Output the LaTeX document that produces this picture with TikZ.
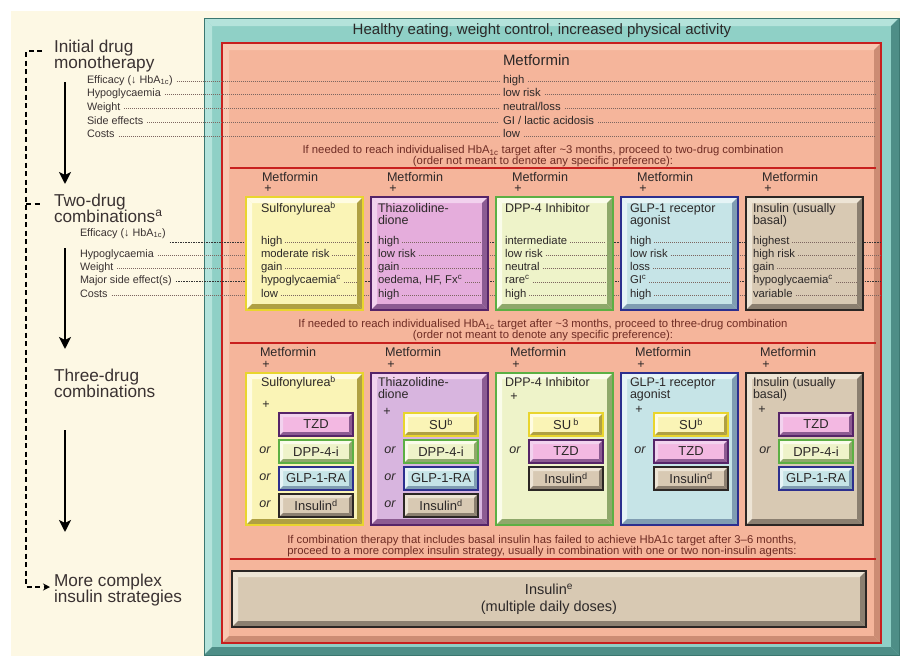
\documentclass[tikz,border=0pt]{standalone}
\usepackage{fontspec}
\setmainfont{Liberation Sans}
\usetikzlibrary{arrows.meta,calc}

% ---------- palette
\definecolor{cream}{HTML}{FDF8E4}
\definecolor{ink}{HTML}{2C2828}
\definecolor{leftInk}{HTML}{3A3232}
\definecolor{stepInk}{HTML}{6E2C24}
\definecolor{dotInk}{HTML}{7D6660}
\definecolor{tealFace}{HTML}{8FD0C6}
\definecolor{tealLight}{HTML}{B4E3DB}
\definecolor{tealDark}{HTML}{4E8E87}
\definecolor{tealEdge}{HTML}{3B7770}
\definecolor{salFace}{HTML}{F5B59B}
\definecolor{salLight}{HTML}{F9C8B1}
\definecolor{salDark}{HTML}{CC8C74}
\definecolor{redLine}{HTML}{C8201E}
\definecolor{suEdge}{HTML}{E9D52E}
\definecolor{suFace}{HTML}{FAF4B6}
\definecolor{suLight}{HTML}{FFFCE2}
\definecolor{suDark}{HTML}{AFA043}
\definecolor{tzdEdge}{HTML}{552468}
\definecolor{tzdFace}{HTML}{E5ADDC}
\definecolor{tzdLight}{HTML}{F2D2EE}
\definecolor{tzdDark}{HTML}{8C5B92}
\definecolor{tzdOuter}{HTML}{D8B5DF}
\definecolor{tzdInner}{HTML}{F3B8E2}
\definecolor{dppEdge}{HTML}{5CAF44}
\definecolor{dppFace}{HTML}{EEF3C9}
\definecolor{dppLight}{HTML}{FAFCEA}
\definecolor{dppDark}{HTML}{8EA86A}
\definecolor{glpEdge}{HTML}{2C2F8E}
\definecolor{glpFace}{HTML}{C6E4E7}
\definecolor{glpLight}{HTML}{E6F4F6}
\definecolor{glpDark}{HTML}{7F9DB2}
\definecolor{insEdge}{HTML}{2B2624}
\definecolor{insFace}{HTML}{D8C9B3}
\definecolor{insLight}{HTML}{EDE4D5}
\definecolor{insDark}{HTML}{8B7F70}

\newcommand\fsz[2]{\fontsize{#1}{#2}\selectfont}
\newcommand\hba{HbA\textsubscript{1c}}

\tikzset{
  every node/.style={inner sep=0pt, outer sep=0pt, text=ink},
  % raised edge: light top/left, dark bottom/right
  bevel/.style n args={3}{path picture={
      \coordinate (bvNW) at (path picture bounding box.north west);
      \coordinate (bvNE) at (path picture bounding box.north east);
      \coordinate (bvSW) at (path picture bounding box.south west);
      \coordinate (bvSE) at (path picture bounding box.south east);
      \fill[#1] (bvNW) -- (bvNE) -- ([xshift=-#3pt,yshift=-#3pt]bvNE) -- ([xshift=#3pt,yshift=-#3pt]bvNW) -- cycle;
      \fill[#1] (bvNW) -- (bvSW) -- ([xshift=#3pt,yshift=#3pt]bvSW) -- ([xshift=#3pt,yshift=-#3pt]bvNW) -- cycle;
      \fill[#2] (bvSW) -- (bvSE) -- ([xshift=-#3pt,yshift=#3pt]bvSE) -- ([xshift=#3pt,yshift=#3pt]bvSW) -- cycle;
      \fill[#2] (bvNE) -- (bvSE) -- ([xshift=-#3pt,yshift=#3pt]bvSE) -- ([xshift=-#3pt,yshift=-#3pt]bvNE) -- cycle;
  }},
  tealframe/.style={draw=tealEdge, line width=1pt, fill=tealFace, bevel={tealLight}{tealDark}{8}},
  salpanel/.style={draw=redLine, line width=1.6pt, fill=salFace, bevel={salLight}{salDark}{7}},
  drug/.style={draw=#1Edge, fill=#1Face, line width=2.6pt, bevel={#1Light}{#1Dark}{6}},
  addon/.style={draw=#1Edge, fill=#1Face, line width=2pt, bevel={#1Light}{#1Dark}{4},
    font=\fsz{13}{13}, minimum width=74pt, minimum height=23pt},
  labBig/.style={anchor=base west, font=\fsz{17.2}{16}, text=leftInk},
  labSmall/.style={anchor=base west, font=\fsz{10.8}{12}, text=leftInk},
  hdrTxt/.style={anchor=base west, font=\fsz{12.6}{12}},
  ttlTxt/.style={anchor=base west, font=\fsz{12.5}{12}},
  valTxt/.style={anchor=base west, font=\fsz{11.3}{12}},
  plusTxt/.style={font=\fsz{12.5}{12}},
  orTxt/.style={font=\itshape\fsz{12.5}{12}},
  noteTxt/.style={align=center, font=\fsz{11.3}{11}, text=stepInk},
  rowdot/.style={dotInk, line width=0.6pt, dash pattern=on 0.8pt off 1.2pt},
  rowdotdark/.style={black!80, line width=1pt, dash pattern=on 1.6pt off 1pt},
  redrule/.style={redLine, line width=2.5pt},
  stagearrow/.style={line width=2.3pt, -{Stealth[length=12pt,width=12pt,inset=3pt]}},
  dashflow/.style={line width=1.8pt, dash pattern=on 5pt off 3.5pt},
}

% values of one two-drug column, each followed by a dotted leader
\newcommand\valcol[3]{%
  \foreach \vt [count=\rw] in {#3} {
    \node[valTxt] (val#1x\rw) at (#2, {244+13.3*(\rw-1)}) {\vt};
    \draw[rowdot] ($(val#1x\rw.base east)+(3,-2)$) -- ($(val#1x\rw.base east -| two#1.east)+(-7,-2)$);
  }%
}

\begin{document}
\begin{tikzpicture}[x=1pt, y=-1pt]
\useasboundingbox (0,0) rectangle (900,656);
\fill[white] (0,0) rectangle (900,656);
\fill[cream] (11,11) rectangle (900,656);

% ---------- stage labels and flow arrows
\node[labBig] (s1a) at (54,52) {Initial drug};
\node[labBig] (s1b) at (54,68.5) {monotherapy};
\node[labBig] (s2a) at (54,206) {Two-drug};
\node[labBig] (s2b) at (54,222.5) {combinations\textsuperscript{a}};
\node[labBig] (s3a) at (54,381) {Three-drug};
\node[labBig] (s3b) at (54,397.5) {combinations};
\node[labBig] (s4a) at (54,586) {More complex};
\node[labBig] (s4b) at (54,602.5) {insulin strategies};

\coordinate (a1s) at (65,82);  \coordinate (a1e) at (65,184);
\coordinate (a2s) at (65,248); \coordinate (a2e) at (65,349);
\coordinate (a3s) at (65,430); \coordinate (a3e) at (65,532);
\draw[stagearrow] (a1s) -- (a1e);
\draw[stagearrow] (a2s) -- (a2e);
\draw[stagearrow] (a3s) -- (a3e);

\coordinate (dTop) at (42,51);  \coordinate (dTurnA) at (26,51);
\coordinate (dTurnB) at (26,587); \coordinate (dTip) at (50,587);
\coordinate (dTickA) at (26,204); \coordinate (dTickB) at (42,204);
\draw[dashflow, -{Stealth[length=7pt,width=7pt]}] (dTop) -- (dTurnA) -- (dTurnB) -- (dTip);
\draw[dashflow] (dTickA) -- (dTickB);

% row labels for the monotherapy and two-drug stages
\foreach \t [count=\rw] in {{Efficacy (↓ \hba)}, Hypoglycaemia, Weight, Side effects, Costs}
  \node[labSmall] (mlab\rw) at (87, {83+13.7*(\rw-1)}) {\t};
\node[labSmall] (tlab1) at (80,236) {Efficacy (↓ \hba)};
\foreach \t [count=\rw from 2] in {Hypoglycaemia, Weight, Major side effect(s), Costs}
  \node[labSmall] (tlab\rw) at (80, {244+13.3*(\rw-1)}) {\t};

% ---------- frames
\node[tealframe, minimum width=695pt, minimum height=637pt] (frame) at (551.5,336.5) {};
\node[font=\fsz{15}{15}] (motto) at (542,31) {Healthy eating, weight control, increased physical activity};
\node[salpanel, minimum width=659pt, minimum height=600pt] (panel) at (551.5,343) {};

% ---------- monotherapy
\node[anchor=base west, font=\fsz{15}{15}] (met0) at (503,65.5) {Metformin};
\foreach \t [count=\rw] in {high, low risk, neutral/loss, GI / lactic acidosis, low} {
  \node[valTxt] (mval\rw) at (503, {83+13.7*(\rw-1)}) {\t};
  \draw[rowdot] ($(mlab\rw.base east)+(4,-2)$) -- ($(mval\rw.base west)+(-4,-2)$);
  \draw[rowdot] ($(mval\rw.base east)+(4,-2)$) -- ($(mval\rw.base east -| panel.east)+(-6,-2)$);
}

\node[noteTxt] (note1) at (543,156) {If needed to reach individualised \hba{} target after \textasciitilde3 months, proceed to two-drug combination\\(order not meant to denote any specific preference):};
\draw[redrule] (230,168) -- (876,168);

% ---------- two-drug combinations
\foreach \rw in {1,...,5}
  \coordinate (row\rw) at (0, {242+13.3*(\rw-1)});
\foreach \rw in {2,3,5}
  \draw[rowdot] ($(tlab\rw.east |- row\rw)+(4,0)$) -- (row\rw -| panel.east);
\foreach \rw in {1,4}
  \draw[rowdotdark] ($(tlab\rw.east |- row\rw)+(4,0)$) -- (row\rw -| panel.east);

\foreach \i in {1,...,5} {
  \node[hdrTxt] (hm\i) at ({246+125*(\i-1)+16}, 181.5) {Metformin};
  \node[plusTxt] (hp\i) at ({246+125*(\i-1)+22}, 189) {+};
}

\node[drug=su,  minimum width=117pt, minimum height=113pt] (two1) at (304.5,253.5) {};
\node[drug=tzd, minimum width=117pt, minimum height=113pt] (two2) at (429.5,253.5) {};
\node[drug=dpp, minimum width=117pt, minimum height=113pt] (two3) at (554.5,253.5) {};
\node[drug=glp, minimum width=117pt, minimum height=113pt] (two4) at (679.5,253.5) {};
\node[drug=ins, minimum width=117pt, minimum height=113pt] (two5) at (804.5,253.5) {};

\node[ttlTxt] (tt1) at (261,212.5) {Sulfonylurea\textsuperscript{b}};
\node[ttlTxt] (tt2) at (378,212.5) {Thiazolidine-};
\node[ttlTxt] (tt2b) at (378,224.5) {dione};
\node[ttlTxt] (tt3) at (505,212.5) {DPP-4 Inhibitor};
\node[ttlTxt] (tt4) at (630,212.5) {GLP-1 receptor};
\node[ttlTxt] (tt4b) at (630,224.5) {agonist};
\node[ttlTxt] (tt5) at (753,212.5) {Insulin (usually};
\node[ttlTxt] (tt5b) at (753,224.5) {basal)};

\valcol{1}{261}{high, moderate risk, gain, hypoglycaemia\textsuperscript{c}, low}
\valcol{2}{378}{high, low risk, gain, {oedema, HF, Fx\textsuperscript{c}}, high}
\valcol{3}{505}{intermediate, low risk, neutral, rare\textsuperscript{c}, high}
\valcol{4}{630}{high, low risk, loss, GI\textsuperscript{c}, high}
\valcol{5}{753}{highest, high risk, gain, hypoglycaemia\textsuperscript{c}, variable}

\node[noteTxt] (note2) at (543,330) {If needed to reach individualised \hba{} target after \textasciitilde3 months, proceed to three-drug combination\\(order not meant to denote any specific preference):};
\draw[redrule] (230,343) -- (876,343);

% ---------- three-drug combinations
\foreach \i in {1,...,5} {
  \node[hdrTxt] (km\i) at ({246+125*(\i-1)+14}, 356.5) {Metformin};
  \node[plusTxt] (kp\i) at ({246+125*(\i-1)+20}, 365) {+};
}

\node[drug=su,  minimum width=117pt, minimum height=152pt] (three1) at (304.5,449) {};
\node[drug=tzd, fill=tzdOuter, minimum width=117pt, minimum height=152pt] (three2) at (429.5,449) {};
\node[drug=dpp, minimum width=117pt, minimum height=152pt] (three3) at (554.5,449) {};
\node[drug=glp, minimum width=117pt, minimum height=152pt] (three4) at (679.5,449) {};
\node[drug=ins, minimum width=117pt, minimum height=152pt] (three5) at (804.5,449) {};

\node[ttlTxt] (kt1) at (261,386.5) {Sulfonylurea\textsuperscript{b}};
\node[ttlTxt] (kt2) at (378,386.5) {Thiazolidine-};
\node[ttlTxt] (kt2b) at (378,398.5) {dione};
\node[ttlTxt] (kt3) at (505,386.5) {DPP-4 Inhibitor};
\node[ttlTxt] (kt4) at (630,386.5) {GLP-1 receptor};
\node[ttlTxt] (kt4b) at (630,398.5) {agonist};
\node[ttlTxt] (kt5) at (753,386.5) {Insulin (usually};
\node[ttlTxt] (kt5b) at (753,398.5) {basal)};

\node[plusTxt] (ip1) at (266,405) {+};
\node[plusTxt] (ip2) at (387,412) {+};
\node[plusTxt] (ip3) at (514,397) {+};
\node[plusTxt] (ip4) at (639,410) {+};
\node[plusTxt] (ip5) at (762,410) {+};

% add-on agents
\node[addon=tzd, fill=tzdInner] (c1a) at (316,424.5) {TZD};
\node[addon=dpp] (c1b) at (316,451.5) {DPP-4-i};
\node[addon=glp] (c1c) at (316,478.5) {GLP-1-RA};
\node[addon=ins] (c1d) at (316,505.5) {Insulin\textsuperscript{d}};

\node[addon=su]  (c2a) at (441,424.5) {SU\textsuperscript{b}};
\node[addon=dpp] (c2b) at (441,451.5) {DPP-4-i};
\node[addon=glp] (c2c) at (441,478.5) {GLP-1-RA};
\node[addon=ins] (c2d) at (441,505.5) {Insulin\textsuperscript{d}};

\node[addon=su]  (c3a) at (566,424.5) {SU\,\textsuperscript{b}};
\node[addon=tzd, fill=tzdInner] (c3b) at (566,451.5) {TZD};
\node[addon=ins] (c3c) at (566,478.5) {Insulin\textsuperscript{d}};

\node[addon=su]  (c4a) at (691,424.5) {SU\textsuperscript{b}};
\node[addon=tzd, fill=tzdInner] (c4b) at (691,451.5) {TZD};
\node[addon=ins] (c4c) at (691,478.5) {Insulin\textsuperscript{d}};

\node[addon=tzd, fill=tzdInner] (c5a) at (816,424.5) {TZD};
\node[addon=dpp] (c5b) at (816,451.5) {DPP-4-i};
\node[addon=glp] (c5c) at (816,478.5) {GLP-1-RA};

\foreach \x/\n in {265/3, 390/3, 515/2, 640/2, 765/2}
  \foreach \k in {2,...,\n}
    \node[orTxt] (or\x x\k) at (\x, {423.5+27*(\k-1)}) {or};
\node[orTxt] (or265x4) at (265,504.5) {or};
\node[orTxt] (or390x4) at (390,504.5) {or};

% ---------- complex insulin strategies
\node[noteTxt] (note3) at (542,546) {If combination therapy that includes basal insulin has failed to achieve HbA1c target after 3--6 months,\\proceed to a more complex insulin strategy, usually in combination with one or two non-insulin agents:};
\draw[redrule] (230,559) -- (876,559);

\node[drug=ins, minimum width=634pt, minimum height=56pt, align=center, font=\fsz{14.5}{17}] (final) at (549,599) {Insulin\textsuperscript{e}\\(multiple daily doses)};
\end{tikzpicture}
\end{document}
